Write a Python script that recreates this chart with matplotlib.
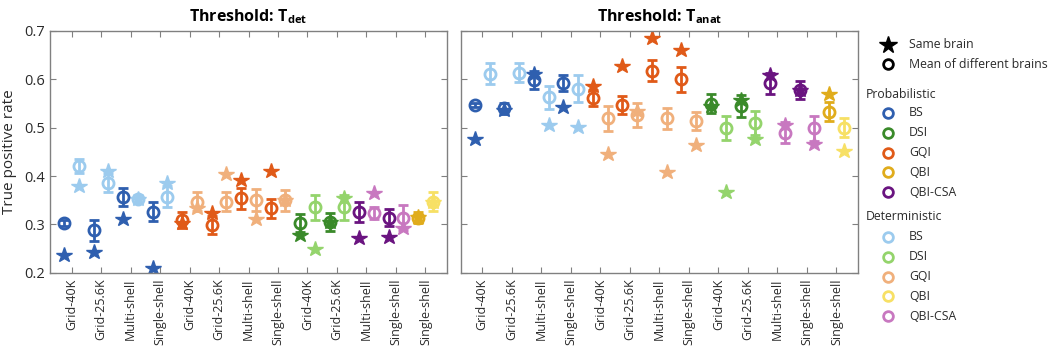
import matplotlib
matplotlib.use("Agg")
import matplotlib.pyplot as plt
import numpy as np

plt.rcParams['font.family'] = ['Open Sans', 'DejaVu Sans']
plt.rcParams['mathtext.fontset'] = 'custom'
plt.rcParams['mathtext.rm'] = 'Open Sans'
plt.rcParams['mathtext.bf'] = 'Open Sans:bold'

# ---------------- data ----------------
tick_labels = ["Grid-40K", "Grid-25.6K", "Multi-shell", "Single-shell",
               "Grid-40K", "Grid-25.6K", "Multi-shell", "Single-shell",
               "Grid-40K", "Grid-25.6K", "Multi-shell", "Single-shell", "Single-shell"]
tick_methods = ["BS", "BS", "BS", "BS", "GQI", "GQI", "GQI", "GQI",
                "DSI", "DSI", "QBI-CSA", "QBI-CSA", "QBI"]

# Threshold T_det
tdet_prob_mean = [0.303, 0.288, 0.356, 0.326, 0.309, 0.299, 0.354, 0.333, 0.303, 0.305, 0.326, 0.314, 0.314]
tdet_prob_err  = [0.006, 0.022, 0.019, 0.020, 0.017, 0.018, 0.022, 0.020, 0.019, 0.018, 0.021, 0.017, 0.012]
tdet_prob_star = [0.236, 0.242, 0.311, 0.209, 0.302, 0.323, 0.392, 0.411, 0.278, 0.305, 0.271, 0.273, 0.316]
tdet_det_mean  = [0.421, 0.386, 0.352, 0.357, 0.347, 0.347, 0.350, 0.350, 0.335, 0.335, 0.323, 0.314, 0.347]
tdet_det_err   = [0.015, 0.020, 0.008, 0.022, 0.020, 0.020, 0.023, 0.022, 0.025, 0.025, 0.012, 0.026, 0.019]
tdet_det_star  = [0.379, 0.411, 0.352, 0.385, 0.333, 0.404, 0.311, 0.350, 0.250, 0.354, 0.365, 0.292, 0.347]

# Threshold T_anat
tanat_prob_mean = [0.547, 0.540, 0.599, 0.593, 0.561, 0.547, 0.618, 0.600, 0.550, 0.545, 0.592, 0.578, 0.533]
tanat_prob_err  = [0.005, 0.012, 0.018, 0.017, 0.017, 0.018, 0.022, 0.026, 0.020, 0.023, 0.022, 0.019, 0.020]
tanat_prob_star = [0.476, 0.537, 0.611, 0.543, 0.586, 0.628, 0.685, 0.661, 0.545, 0.557, 0.609, 0.578, 0.570]
tanat_det_mean  = [0.612, 0.614, 0.563, 0.581, 0.519, 0.526, 0.519, 0.514, 0.499, 0.510, 0.490, 0.499, 0.500]
tanat_det_err   = [0.022, 0.020, 0.024, 0.027, 0.025, 0.025, 0.022, 0.018, 0.025, 0.025, 0.021, 0.026, 0.020]
tanat_det_star  = [np.nan, np.nan, 0.506, 0.502, 0.445, 0.535, 0.409, 0.464, 0.366, 0.476, 0.506, 0.466, 0.452]

legend_methods = ["BS", "DSI", "GQI", "QBI", "QBI-CSA"]
prob_colors = {"BS": "#2f5faf", "DSI": "#3a8a2a", "GQI": "#e05a18",
               "QBI": "#e0ac1c", "QBI-CSA": "#6a1480"}
det_colors = {"BS": "#9ccbee", "DSI": "#94d46c", "GQI": "#f0b07c",
              "QBI": "#f7e065", "QBI-CSA": "#c878c0"}

# ---------------- figure ----------------
fig = plt.figure(figsize=(10.5, 3.48), dpi=100)
W, H = 1050.0, 348.0
ax1 = fig.add_axes([50 / W, 1 - 272.7 / H, (447 - 50) / W, (272.7 - 31) / H])
ax2 = fig.add_axes([460.7 / W, 1 - 272.7 / H, (858 - 460.7) / W, (272.7 - 31) / H])

spine_c = "#808080"
txt_c = "#2a2a2a"
xpos = np.arange(1, len(tick_labels) + 1)
off = 0.25


def draw(ax, pm, pe, ps, dm, de, ds, title):
    for i, m in enumerate(tick_methods):
        x = xpos[i]
        for dx, mean, err, star, col in ((-off, pm[i], pe[i], ps[i], prob_colors[m]),
                                         (off, dm[i], de[i], ds[i], det_colors[m])):
            ax.plot([x + dx], [star], marker="*", ms=11.5, color=col, mec=col, ls="none", zorder=2)
            ax.errorbar([x + dx], [mean], yerr=[err], fmt="o", ms=8, mfc="none", mec=col,
                        mew=2.0, color=col, elinewidth=2.0, capsize=3.5, capthick=2.0, zorder=3)
    ax.set_xlim(0.27, 13.73)
    ax.set_ylim(0.2, 0.7)
    ax.set_yticks([0.2, 0.3, 0.4, 0.5, 0.6, 0.7])
    ax.set_xticks(xpos)
    ax.set_xticklabels(tick_labels, rotation=90)
    ax.tick_params(direction="in", top=True, right=True, length=4, width=0.8, color=spine_c,
                   labelsize=10.5, labelcolor=txt_c)
    ax.tick_params(axis="x", labelsize=9, pad=4)
    for s in ax.spines.values():
        s.set_color(spine_c)
        s.set_linewidth(1.0)
    ax.set_title(title, fontsize=11.5, fontweight="bold", pad=7)


draw(ax1, tdet_prob_mean, tdet_prob_err, tdet_prob_star,
     tdet_det_mean, tdet_det_err, tdet_det_star, r"Threshold: T$_{\mathbf{det}}$")
draw(ax2, tanat_prob_mean, tanat_prob_err, tanat_prob_star,
     tanat_det_mean, tanat_det_err, tanat_det_star, r"Threshold: T$_{\mathbf{anat}}$")
ax1.set_yticklabels(["0.2", "0.3", "0.4", "0.5", "0.6", "0.7"])
ax1.set_ylabel("True positive rate", fontsize=11, color=txt_c, labelpad=5)
ax2.set_yticklabels([])

# ---------------- legend (manual, in pixel-like coordinates) ----------------
lax = fig.add_axes([0, 0, 1, 1], facecolor="none")
lax.set_xlim(0, W)
lax.set_ylim(H, 0)
lax.axis("off")
mx, tx, hx = 888, 909, 866
fs = 8.8
lax.plot([mx], [45], marker="*", ms=13, color="black", ls="none")
lax.text(tx, 45, "Same brain", va="center", fontsize=fs, color=txt_c)
lax.plot([mx], [64], marker="o", ms=7, mfc="none", mec="black", mew=2, ls="none")
lax.text(tx, 64, "Mean of different brains", va="center", fontsize=fs, color=txt_c)

lax.text(hx, 95, "Probabilistic", va="center", fontsize=fs, color=txt_c)
for k, m in enumerate(legend_methods):
    y = 113 + k * 19.8
    lax.plot([mx], [y], marker="o", ms=7, mfc="none", mec=prob_colors[m], mew=2, ls="none")
    lax.text(tx, y, m, va="center", fontsize=fs, color=txt_c)

lax.text(hx, 217, "Deterministic", va="center", fontsize=fs, color=txt_c)
for k, m in enumerate(legend_methods):
    y = 237 + k * 19.8
    lax.plot([mx], [y], marker="o", ms=7, mfc="none", mec=det_colors[m], mew=2, ls="none")
    lax.text(tx, y, m, va="center", fontsize=fs, color=txt_c)

fig.savefig("out.png", dpi=100)
